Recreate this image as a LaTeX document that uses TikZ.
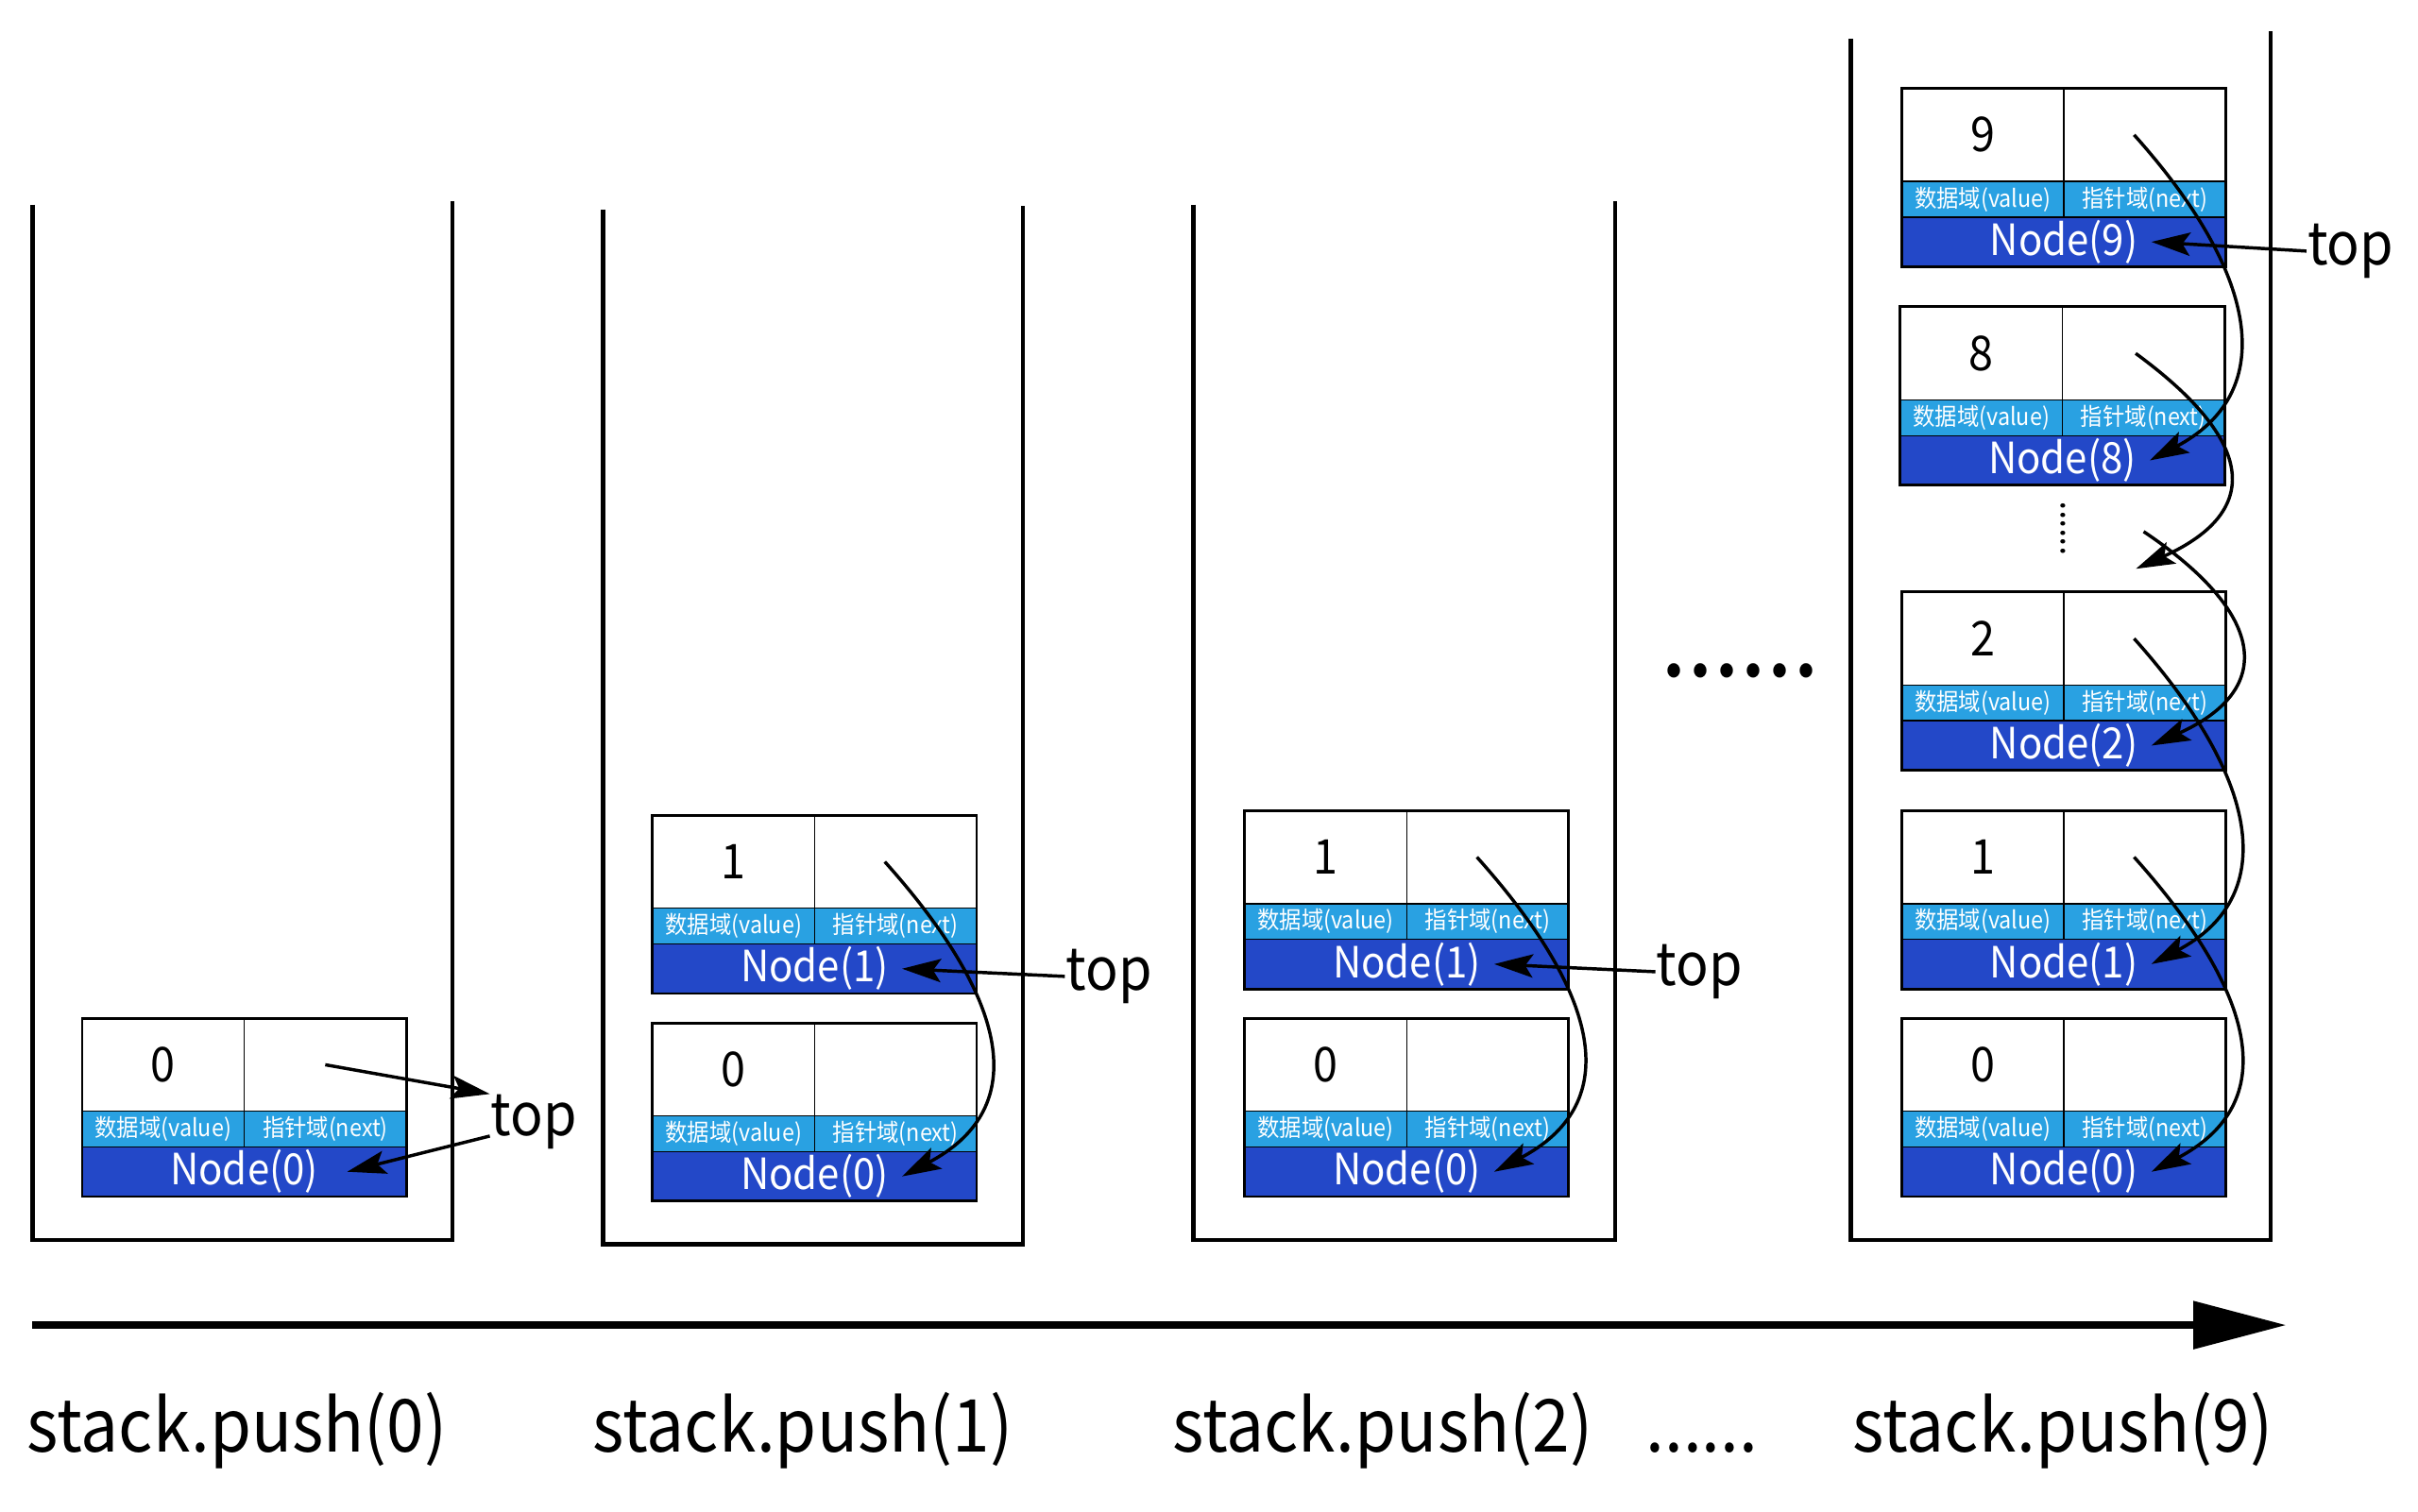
\documentclass[tikz,border=0pt]{standalone}
\usepackage{fontspec}
\setmainfont{Noto Sans CJK SC}[FakeStretch=0.92]
\usepackage{tikz}
\usetikzlibrary{arrows.meta}
\definecolor{bandblue}{RGB}{41,161,226}
\definecolor{nodeblue}{RGB}{35,72,200}
\newcommand{\listnode}[5]{%
	\node[valcell] (#1v) at (#2, #3) {#4};
	\node[valcell] (#1p) at (#1v.north east) {};
	\node[bandcell] (#1a) at (#1v.south west) {数据域(value)};
	\node[bandcell] (#1b) at (#1p.south west) {指针域(next)};
	\node[namebar] (#1n) at (#1a.south west) {};
	\node[nodename] (#1t) at (#1n.center) {Node(#5)};
	\draw[line width=0.5pt] (#1v.north west) rectangle (#1n.south east);
}
\tikzset{
	wall/.style={line width=0.8pt},
	valcell/.style={draw, line width=0.25pt, minimum width=1.045cm, minimum height=0.6cm,
		inner sep=0pt, outer sep=0pt, anchor=north west, font=\fontsize{8.8}{8.8}\selectfont},
	bandcell/.style={draw, line width=0.25pt, fill=bandblue, text=white, minimum width=1.045cm,
		minimum height=0.23cm, inner sep=0pt, outer sep=0pt, anchor=north west,
		font=\fontsize{4.4}{4.4}\selectfont},
	namebar/.style={draw, line width=0.25pt, fill=nodeblue, minimum width=2.09cm,
		minimum height=0.32cm, inner sep=0pt, outer sep=0pt, anchor=north west},
	nodename/.style={text=white, inner sep=0pt, inner xsep=0.08cm, font=\fontsize{7.9}{7.9}\selectfont},
	ptr/.style={line width=0.6pt, -{Stealth[length=0.25cm, width=0.15cm, inset=0.05cm]}},
	toplabel/.style={inner sep=0pt, font=\fontsize{10.8}{10.8}\selectfont},
	pushlabel/.style={inner sep=0pt, anchor=base, font=\fontsize{13.4}{13.4}\selectfont},
}

\begin{document}
\begin{tikzpicture}[x=0.01cm, y=-0.01cm]
	\useasboundingbox (0, 0) rectangle (1560, 975);

	\draw[wall] (21, 132) -- (21, 800) -- (292, 800) -- (292, 130);
	\draw[wall] (389, 135) -- (389, 803) -- (660, 803) -- (660, 133);
	\draw[wall] (770, 132) -- (770, 800) -- (1042, 800) -- (1042, 130);
	\draw[wall] (1194, 25) -- (1194, 800) -- (1465, 800) -- (1465, 20);

	\listnode{s1n0}{53}{657}{0}{0}

	\listnode{s2n1}{421}{526}{1}{1}
	\listnode{s2n0}{421}{660}{0}{0}

	\listnode{s3n1}{803}{523}{1}{1}
	\listnode{s3n0}{803}{657}{0}{0}

	\listnode{s4n9}{1227}{57}{9}{9}
	\listnode{s4n8}{1226}{198}{8}{8}
	\listnode{s4n2}{1227}{382}{2}{2}
	\listnode{s4n1}{1227}{523}{1}{1}
	\listnode{s4n0}{1227}{657}{0}{0}

	\node[rotate=90, inner sep=0pt, font=\fontsize{6.5}{6.5}\selectfont] (vdots) at (1331, 341) {......};
	\node[inner sep=0pt, font=\fontsize{19}{19}\selectfont] (hdots) at (1123, 433) {......};
	\coordinate (gapin) at (1378, 367);
	\coordinate (gapout) at (1383, 343);

	\node[toplabel, anchor=base west] (top1) at (316, 733) {top};
	\node[toplabel, anchor=west] (top2) at (687, 630) {top};
	\node[toplabel, anchor=west] (top3) at (1068, 627) {top};
	\node[toplabel, anchor=west] (top4) at (1488, 162) {top};

	\draw[ptr] (s1n0p.center) -- (top1.north west);
	\draw[ptr] (top1.base west) -- ([xshift=0.1cm]s1n0t.east);

	\draw[ptr] (top2.west) -- (s2n1t.east);
	\draw[ptr] ([xshift=-0.07cm]s2n1p.center) .. controls +(85, 95) and +(80, -42) .. (s2n0t.east);

	\draw[ptr] (top3.west) -- (s3n1t.east);
	\draw[ptr] ([xshift=-0.07cm]s3n1p.center) .. controls +(85, 95) and +(80, -42) .. (s3n0t.east);

	\draw[ptr] (top4.west) -- (s4n9t.east);
	\draw[ptr] ([xshift=-0.07cm]s4n9p.center) .. controls +(85, 95) and +(80, -42) .. (s4n8t.east);
	\draw[ptr] ([xshift=-0.05cm]s4n8p.center) .. controls +(82, 60) and +(78, -35) .. (gapin);
	\draw[ptr] (gapout) .. controls +(82, 55) and +(78, -35) .. (s4n2t.east);
	\draw[ptr] ([xshift=-0.07cm]s4n2p.center) .. controls +(85, 95) and +(80, -42) .. (s4n1t.east);
	\draw[ptr] ([xshift=-0.07cm]s4n1p.center) .. controls +(85, 95) and +(80, -42) .. (s4n0t.east);

	\coordinate (t0) at (21, 855);
	\coordinate (t1) at (1475, 855);
	\draw[line width=1.4pt, -{Triangle[length=0.6cm, width=0.3cm]}] (t0) -- (t1);

	\node[pushlabel] (push0) at (153, 937) {stack.push(0)};
	\node[pushlabel] (push1) at (518, 937) {stack.push(1)};
	\node[pushlabel] (push2) at (892, 937) {stack.push(2)};
	\node[pushlabel] (pushdots) at (1098, 937) {......};
	\node[pushlabel] (push9) at (1331, 937) {stack.push(9)};
\end{tikzpicture}
\end{document}
